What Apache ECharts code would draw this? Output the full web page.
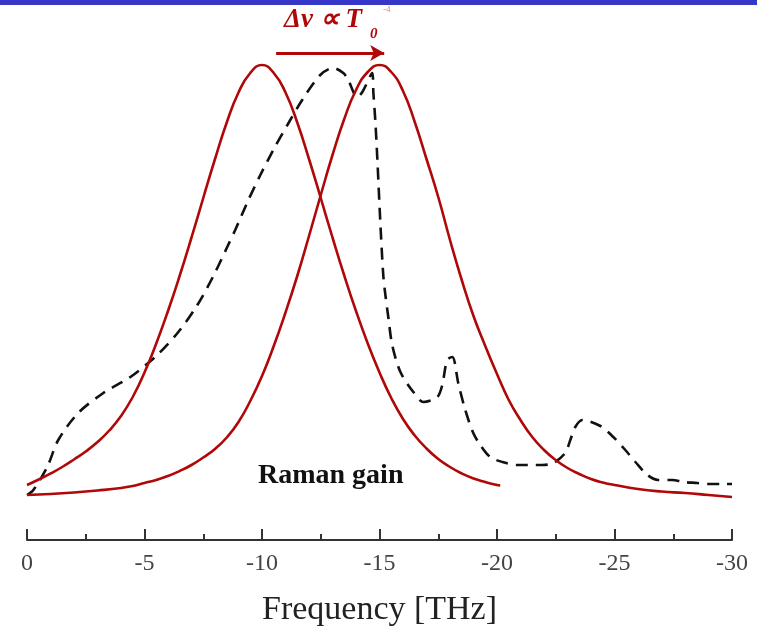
<!DOCTYPE html>
<html>
<head>
<meta charset="utf-8">
<script src="https://cdn.jsdelivr.net/npm/echarts@6/dist/echarts.min.js"></script>
<style>
html,body{margin:0;padding:0;background:#ffffff;}
#chart{width:757px;height:626px;}
</style>
</head>
<body>
<div id="chart"></div>
<script>
// ---- data (frequency in THz, gain in arbitrary units 0..100) ----
var gainLeftFreq = [0, -0.5, -1, -1.5, -2, -2.5, -3, -3.5, -4, -4.5, -5, -5.5, -6, -6.5, -7, -7.5, -8, -8.5, -9, -9.5, -10,
  -10.5, -11, -11.5, -12, -12.5, -13, -13.5, -14, -14.5, -15, -15.5, -16, -16.5, -17, -17.5, -18, -18.5, -19, -19.5, -20, -20.14];
var gainLeftVal = [11, 12.1, 13.3, 14.6, 16.1, 17.7, 19.6, 21.9, 24.8, 28.6, 33.5, 39.3, 45.8, 52.9, 60.5, 68.4, 76.2, 83.5, 89.5, 93.4, 95,
  93.4, 89.5, 83.5, 76.2, 68.4, 60.5, 52.9, 45.8, 39.3, 33.5, 28.4, 24.2, 20.9, 18.3, 16.2, 14.6, 13.3, 12.3, 11.6, 11, 10.9];

var gainRightFreq = [0, -1, -2, -3, -4, -4.5, -5, -5.5, -6, -6.5, -7, -7.5, -8, -8.5, -9, -9.5, -10, -10.5, -11, -11.5, -12, -12.5,
  -13, -13.5, -14, -14.5, -15, -15.5, -16, -16.5, -17, -17.5, -18, -18.5, -19, -19.5, -20, -20.5, -21, -21.5, -22, -22.5, -23,
  -23.5, -24, -24.5, -25, -26, -27, -28, -29, -30];
var gainRightVal = [9, 9.2, 9.5, 9.9, 10.4, 10.8, 11.4, 12.0, 12.8, 13.8, 15.0, 16.5, 18.2, 20.5, 23.6, 27.8, 32.8, 38.8, 45.5, 52.8, 60.8, 69,
  77, 84.2, 90, 93.6, 95, 93.6, 89.8, 83.6, 76.2, 68.6, 60, 52, 44.8, 38.8, 33.2, 28, 24, 20.6, 18, 16, 14.4,
  13.2, 12.2, 11.5, 11, 10.2, 9.7, 9.4, 9, 8.6];

var spectrumFreq = [0, -0.27, -0.86, -1.33, -2.18, -3.25, -4.4, -5.54, -6.44, -7.25, -7.93, -8.52, -8.86, -9.42, -9.93, -10.48,
  -11.08, -11.71, -12.48, -13.03, -13.46, -13.67, -14.05, -14.27, -14.69, -14.74, -14.82, -14.91, -15.03, -15.16, -15.25,
  -15.38, -15.54, -15.89, -16.44, -16.87, -17.46, -17.67, -17.88, -18.1, -18.35, -18.65, -18.99, -19.29, -19.71, -20.23,
  -20.86, -21.33, -21.93, -22.4, -22.9, -23.12, -23.33, -23.63, -24.4, -24.95, -25.46, -25.89, -26.4, -26.86, -27.46,
  -27.93, -28.52, -28.99, -29.63, -30.0];
var spectrumVal = [9, 10, 14.6, 20, 25.4, 29.4, 32.6, 37, 41.6, 47, 52.8, 58.6, 62, 68, 73, 78,
  83, 88, 93, 94.4, 93.4, 92, 88.6, 89.6, 93.4, 89.4, 84, 76, 64, 53, 49,
  44.4, 39, 33.6, 29.6, 27.6, 28.6, 31, 36, 36.6, 31.4, 26, 21.4, 19, 16.6, 15.6,
  15, 15, 15, 15.4, 17.4, 20, 22.6, 24, 22.8, 20.6, 18, 15.6, 13, 12, 12,
  11.6, 11.4, 11.2, 11.2, 11.2];

var shiftFrom = -10.6, shiftTo = -15.2, shiftLevel = 97.4;
var xTicks = {min: -30, max: 0, step: 5};

function pairs(xs, ys) { return xs.map(function (x, i) { return [x, ys[i]]; }); }

var red = '#b00808';
var chart = echarts.init(document.getElementById('chart'), null, {renderer: 'canvas'});
chart.setOption({
  animation: false,
  backgroundColor: '#ffffff',
  grid: {left: 27, right: 25, top: 40, bottom: 86, containLabel: false, outerBoundsMode: 'none'},
  xAxis: {
    type: 'value', inverse: true, min: xTicks.min, max: xTicks.max, interval: xTicks.step,
    name: 'Frequency [THz]', nameLocation: 'middle', nameGap: 53,
    nameTextStyle: {fontFamily: 'Liberation Serif', fontSize: 34, color: '#222'},
    axisLine: {lineStyle: {color: '#333', width: 2}},
    axisTick: {inside: true, length: 11, lineStyle: {color: '#333', width: 2}},
    minorTick: {show: true, splitNumber: 2, length: 6, lineStyle: {color: '#333', width: 2}},
    splitLine: {show: false},
    axisLabel: {fontFamily: 'Liberation Serif', fontSize: 24, color: '#444', margin: 12,
      formatter: function (v) { return String(v); }}
  },
  yAxis: {type: 'value', min: 0, max: 100, show: false},
  series: [
    {type: 'line', data: pairs(gainLeftFreq, gainLeftVal), smooth: true, symbol: 'none',
      lineStyle: {color: red, width: 2.6}, z: 3,
      markLine: {silent: true, symbol: ['none', 'arrow'], symbolSize: [12, 14],
        label: {show: false}, lineStyle: {color: red, width: 3, type: 'solid'},
        data: [[{coord: [shiftFrom, shiftLevel]}, {coord: [shiftTo, shiftLevel]}]]}},
    {type: 'line', data: pairs(gainRightFreq, gainRightVal), smooth: true, symbol: 'none',
      lineStyle: {color: red, width: 2.6}, z: 3},
    {type: 'line', data: pairs(spectrumFreq, spectrumVal), smooth: 0.3, symbol: 'none',
      lineStyle: {color: '#111', width: 2.6, type: [12, 8]}, z: 2}
  ],
  graphic: [
    {type: 'rect', left: 0, top: 0, shape: {width: 757, height: 5}, style: {fill: '#3636c8'}},
    {type: 'text', x: 258, y: 462, style: {text: 'Raman gain', font: 'bold 28px "Liberation Serif"', fill: '#111'}},
    {type: 'text', x: 284, y: 7, style: {text: 'Δν ∝ T', font: 'italic bold 27px "Liberation Serif"', fill: red}},
    {type: 'text', x: 370, y: 27, style: {text: '0', font: 'italic bold 15px "Liberation Serif"', fill: red}},
    {type: 'text', x: 383, y: 5, style: {text: '-4', font: '9px "Liberation Serif"', fill: '#d88a8a'}}
  ]
});
</script>
</body>
</html>
